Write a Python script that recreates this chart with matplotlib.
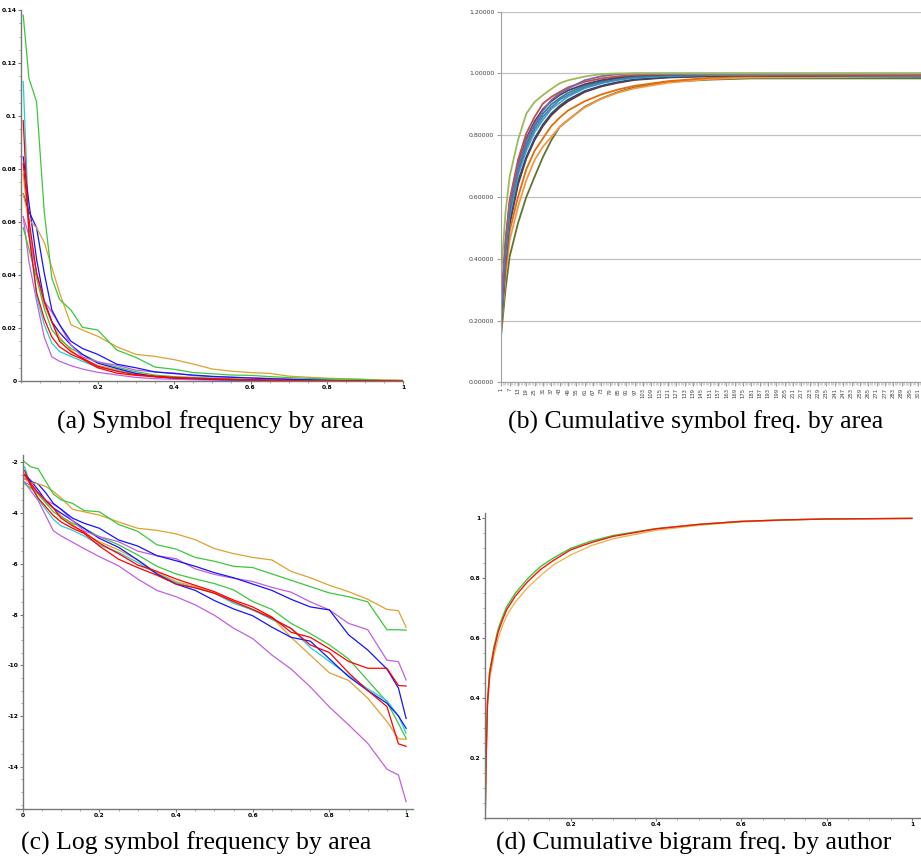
import numpy as np
import matplotlib
matplotlib.use("Agg")
from matplotlib import pyplot as plt
from matplotlib.ticker import AutoMinorLocator, MultipleLocator, FixedLocator, FuncFormatter

plt.rcParams['axes.unicode_minus'] = False

# ---- (a) and (c): log symbol frequency against normalised rank, one line per area
rank = [0.005, 0.02, 0.04, 0.06, 0.08, 0.10, 0.13, 0.16, 0.20, 0.25, 0.30, 0.35, 0.40,
        0.45, 0.50, 0.55, 0.60, 0.65, 0.70, 0.75, 0.80, 0.85, 0.90, 0.95, 0.98, 1.00]

orange_a = [-2.65, -2.8, -2.85, -2.95, -3.15, -3.4, -3.85, -3.95, -4.08, -4.35, -4.6, -4.68, -4.82,
            -5.05, -5.4, -5.6, -5.75, -5.85, -6.3, -6.55, -6.85, -7.1, -7.4, -7.8, -7.85, -8.5]
green_a = [-1.98, -2.17, -2.25, -2.75, -3.25, -3.48, -3.62, -3.9, -3.95, -4.45, -4.72, -5.25, -5.42,
           -5.75, -5.9, -6.1, -6.15, -6.4, -6.65, -6.9, -7.15, -7.3, -7.5, -8.6, -8.6, -8.62]
blue_a = [-2.65, -2.75, -2.85, -3.2, -3.62, -3.85, -4.2, -4.4, -4.6, -5.06, -5.3, -5.68, -5.88,
          -6.1, -6.35, -6.55, -6.8, -7.05, -7.4, -7.7, -7.82, -8.8, -9.4, -10.15, -10.9, -12.1]
purple_a = [-2.78, -2.9, -3.2, -3.5, -3.65, -3.85, -4.3, -4.7, -4.93, -5.13, -5.5, -5.68, -5.8,
            -6.2, -6.42, -6.57, -6.7, -6.93, -7.12, -7.5, -7.82, -8.35, -8.6, -9.8, -9.86, -10.58]
purple_b = [-2.78, -3.1, -3.5, -4.1, -4.7, -4.9, -5.15, -5.4, -5.72, -6.08, -6.6, -7.05, -7.3,
            -7.62, -8.03, -8.54, -8.95, -9.6, -10.15, -10.85, -11.65, -12.35, -13.08, -14.1, -14.33, -15.38]
red_a = [-2.5, -2.8, -3.2, -3.5, -3.8, -4.2, -4.5, -4.75, -5.19, -5.6, -6.05, -6.3, -6.6,
         -6.85, -7.1, -7.43, -7.7, -8.1, -8.7, -8.9, -9.35, -9.85, -10.12, -10.12, -10.8, -10.82]
red_b = [-2.32, -2.9, -3.4, -3.75, -4.1, -4.35, -4.6, -4.8, -5.3, -5.82, -6.15, -6.45, -6.8,
         -6.95, -7.16, -7.49, -7.8, -8.15, -8.55, -9.2, -9.5, -10.3, -11.0, -11.63, -13.1, -13.2]
cyan_a = [-2.18, -2.85, -3.45, -3.85, -4.25, -4.5, -4.68, -4.9, -5.26, -5.55, -5.95, -6.4, -6.75,
          -6.95, -7.16, -7.56, -7.82, -8.2, -8.55, -9.3, -9.85, -10.4, -10.93, -11.4, -12.0, -12.68]
green_b = [-2.85, -3.0, -3.25, -3.6, -3.95, -4.15, -4.4, -4.6, -4.93, -5.25, -5.65, -6.1, -6.4,
           -6.6, -6.78, -7.03, -7.49, -7.8, -8.35, -8.75, -9.2, -9.75, -10.6, -11.45, -12.3, -12.88]
orange_b = [-2.55, -2.85, -3.2, -3.55, -3.81, -4.1, -4.45, -4.8, -5.13, -5.45, -5.85, -6.35, -6.7,
            -6.9, -7.16, -7.49, -7.82, -8.12, -8.9, -9.6, -10.3, -10.6, -11.3, -12.22, -12.9, -12.92]
blue_b = [-2.47, -2.7, -3.08, -3.5, -3.8, -4.0, -4.3, -4.6, -5.0, -5.35, -5.85, -6.4, -6.8,
          -7.05, -7.45, -7.78, -8.05, -8.5, -8.9, -9.05, -9.75, -10.45, -11.0, -11.5, -12.0, -12.49]

# ---- (b): cumulative symbol frequency by area (spreadsheet chart)
cum_idx = [1, 4, 7, 13, 19, 25, 31, 37, 43, 49, 61, 73, 85, 97, 121, 151, 181, 303]
cum_light_green = [0.353, 0.55, 0.666, 0.784, 0.87, 0.908, 0.93, 0.95, 0.968, 0.978, 0.99, 0.998,
                   1.0, 1.0, 1.0, 1.0, 1.0, 1.0]
cum_dark_green = [0.159, 0.30, 0.407, 0.515, 0.6, 0.666, 0.73, 0.784, 0.827, 0.849, 0.892, 0.919,
                  0.94, 0.955, 0.973, 0.98, 0.984, 0.984]
cum_orange1 = [0.18, 0.34, 0.46, 0.568, 0.655, 0.72, 0.763, 0.795, 0.827, 0.85, 0.89, 0.918,
               0.938, 0.952, 0.97, 0.982, 0.987, 0.989]
cum_orange2 = [0.2, 0.37, 0.49, 0.6, 0.69, 0.75, 0.79, 0.83, 0.857, 0.88, 0.91, 0.932,
               0.948, 0.96, 0.975, 0.986, 0.992, 0.997]
cum_red = [0.266, 0.46, 0.59, 0.72, 0.806, 0.86, 0.903, 0.924, 0.94, 0.955, 0.973, 0.984,
           0.991, 0.995, 0.998, 0.998, 0.997, 0.995]
cum_purple = [0.234, 0.44, 0.57, 0.70, 0.784, 0.838, 0.88, 0.914, 0.935, 0.951, 0.978, 0.991,
              0.998, 1.0, 1.0, 1.0, 1.0, 1.0]
cum_blue = [0.22, 0.42, 0.55, 0.68, 0.76, 0.82, 0.86, 0.89, 0.915, 0.93, 0.955, 0.97,
            0.98, 0.987, 0.993, 0.996, 0.996, 0.993]
cum_aqua = [0.21, 0.41, 0.54, 0.67, 0.75, 0.81, 0.85, 0.885, 0.905, 0.925, 0.952, 0.968,
            0.979, 0.986, 0.992, 0.995, 0.995, 0.992]
cum_dark_blue = [0.2, 0.39, 0.52, 0.65, 0.73, 0.79, 0.835, 0.87, 0.895, 0.915, 0.943, 0.96,
                 0.972, 0.981, 0.988, 0.992, 0.993, 0.99]
cum_dark_purple = [0.24, 0.45, 0.58, 0.71, 0.79, 0.845, 0.885, 0.91, 0.93, 0.945, 0.965, 0.978,
                   0.987, 0.993, 0.997, 0.998, 0.998, 0.996]
cum_dark_aqua = [0.23, 0.43, 0.56, 0.69, 0.77, 0.83, 0.87, 0.9, 0.92, 0.937, 0.96, 0.974,
                 0.984, 0.99, 0.995, 0.997, 0.997, 0.994]
cum_dark_red = [0.19, 0.38, 0.51, 0.64, 0.725, 0.785, 0.83, 0.865, 0.89, 0.91, 0.94, 0.958,
                0.97, 0.979, 0.987, 0.991, 0.992, 0.991]
cum_ticks = list(range(1, 302, 6))

# ---- (d): cumulative bigram frequency by author
bigram_x = [0, 0.002, 0.005, 0.01, 0.02, 0.03, 0.04, 0.05, 0.07, 0.1, 0.13, 0.16, 0.2, 0.25,
            0.3, 0.4, 0.5, 0.6, 0.7, 0.8, 1.0]
bigram_orange = [0.02, 0.18, 0.36, 0.46, 0.54, 0.6, 0.64, 0.675, 0.72, 0.77, 0.81, 0.845, 0.878,
                 0.91, 0.932, 0.96, 0.977, 0.988, 0.994, 0.998, 1.0]
bigram_green = [0.02, 0.22, 0.39, 0.49, 0.57, 0.63, 0.67, 0.705, 0.75, 0.8, 0.84, 0.868, 0.9,
                0.925, 0.943, 0.966, 0.98, 0.99, 0.995, 0.998, 1.0]
bigram_red = [0.02, 0.2, 0.38, 0.48, 0.56, 0.62, 0.66, 0.695, 0.74, 0.79, 0.83, 0.86, 0.895,
              0.92, 0.94, 0.965, 0.98, 0.99, 0.995, 0.998, 1.0]

GREEN, ORANGE, BLUE, RED, CYAN, PURPLE = '#3cc83c', '#e0a030', '#1414ff', '#ff0000', '#20d0d8', '#c060e0'
area_lines = [(purple_b, PURPLE), (orange_b, ORANGE), (green_b, GREEN), (cyan_a, CYAN),
              (blue_b, BLUE), (purple_a, PURPLE), (blue_a, BLUE), (orange_a, ORANGE),
              (green_a, GREEN), (red_b, RED), (red_a, RED)]

cum_lines = [(cum_dark_green, '#5f7530'), (cum_orange1, '#f79646'), (cum_dark_red, '#772c2a'),
             (cum_orange2, '#e46c0a'), (cum_dark_blue, '#2c4d75'), (cum_aqua, '#4bacc6'),
             (cum_blue, '#4f81bd'), (cum_dark_aqua, '#31859c'), (cum_dark_purple, '#4d3b62'),
             (cum_red, '#c0504d'), (cum_purple, '#8064a2'), (cum_light_green, '#9bbb59')]


def maple_axes(ax, xmaj, ymaj):
    # Maple style: two axis lines only, small bold labels
    for s in ('top', 'right'):
        ax.spines[s].set_visible(False)
    for s in ('left', 'bottom'):
        ax.spines[s].set_color('#777777')
        ax.spines[s].set_linewidth(1.0)
    ax.xaxis.set_major_locator(FixedLocator(xmaj))
    ax.yaxis.set_major_locator(FixedLocator(ymaj))
    ax.xaxis.set_minor_locator(AutoMinorLocator(4))
    ax.yaxis.set_minor_locator(AutoMinorLocator(4))
    fmt = FuncFormatter(lambda v, p: '%g' % round(v, 4))
    ax.xaxis.set_major_formatter(fmt)
    ax.yaxis.set_major_formatter(fmt)
    ax.tick_params(which='major', length=2, width=0.8, color='#777777', labelsize=4.3, pad=1.2)
    ax.tick_params(which='minor', length=1.5, width=0.6, color='#999999')
    for lab in ax.get_xticklabels() + ax.get_yticklabels():
        lab.set_fontweight('bold')


fig = plt.figure(figsize=(9.21, 8.64), dpi=100)

# (a)
ax = fig.add_axes([21.3 / 921, 1 - 381 / 864, (403.3 - 21.3) / 921, 371 / 864])
for vals, c in area_lines:
    ax.plot(rank, np.exp(vals), color=c, lw=0.9)
ax.set_xlim(0, 1)
ax.set_ylim(0, 0.14)
maple_axes(ax, [0.2, 0.4, 0.6, 0.8, 1.0], [0, 0.02, 0.04, 0.06, 0.08, 0.1, 0.12, 0.14])

# (b)
ax = fig.add_axes([501.3 / 921, 1 - 382.3 / 864, (921 - 501.3) / 921, (382.3 - 11.7) / 864])
for vals, c in cum_lines:
    ax.plot(cum_idx, vals, color=c, lw=1.3)
ax.set_xlim(1, 303)
ax.set_ylim(0, 1.2)
ax.yaxis.set_major_locator(MultipleLocator(0.2))
ax.yaxis.set_major_formatter(FuncFormatter(lambda v, p: '%.5f' % v))
ax.set_xticks(cum_ticks)
ax.set_xticklabels([str(t) for t in cum_ticks], rotation=90)
ax.xaxis.set_minor_locator(MultipleLocator(1))
ax.grid(axis='y', color='#c0c0c0', lw=0.9)
ax.set_axisbelow(True)
for s in ('top', 'right'):
    ax.spines[s].set_visible(False)
for s in ('left', 'bottom'):
    ax.spines[s].set_color('#a0a0a0')
ax.tick_params(axis='y', length=3, color='#a0a0a0', labelsize=4.5, labelcolor='#404040', pad=2)
ax.tick_params(axis='x', which='major', length=3, color='#a0a0a0', labelsize=3.8,
               labelcolor='#404040', pad=1)
ax.tick_params(axis='x', which='minor', length=2, color='#c0c0c0', width=0.5)

# (c)
ax = fig.add_axes([16 / 921, 1 - 809 / 864, (413 - 16) / 921, (809 - 455) / 864])
for vals, c in area_lines:
    ax.plot(rank, vals, color=c, lw=0.9)
ax.set_xlim(-0.0175, 1.018)
ax.set_ylim(-15.67, -1.71)
ax.spines['left'].set_position(('data', 0))
maple_axes(ax, [0, 0.2, 0.4, 0.6, 0.8, 1.0], [-2, -4, -6, -8, -10, -12, -14])

# (d)
ax = fig.add_axes([485.3 / 921, 1 - 818 / 864, (920 - 485.3) / 921, (818 - 512.7) / 864])
ax.plot(bigram_x, bigram_orange, color='#f0b040', lw=0.9)
ax.plot(bigram_x, bigram_green, color='#33cc33', lw=1.0)
ax.plot(bigram_x, bigram_red, color='#ff1010', lw=1.0)
ax.set_xlim(0, 1.019)
ax.set_ylim(0, 1.019)
maple_axes(ax, [0.2, 0.4, 0.6, 0.8, 1.0], [0.2, 0.4, 0.6, 0.8, 1.0])

cap = dict(ha='center', va='center', fontsize=18.5, family='Liberation Serif')
fig.text(210 / 921, 1 - 422 / 864, '(a) Symbol frequency by area', **cap)
fig.text(696 / 921, 1 - 422 / 864, '(b) Cumulative symbol freq. by area', **cap)
fig.text(196 / 921, 1 - 843 / 864, '(c) Log symbol frequency by area', **cap)
fig.text(694 / 921, 1 - 843 / 864, '(d) Cumulative bigram freq. by author', **cap)

fig.savefig('out.png', dpi=100)
